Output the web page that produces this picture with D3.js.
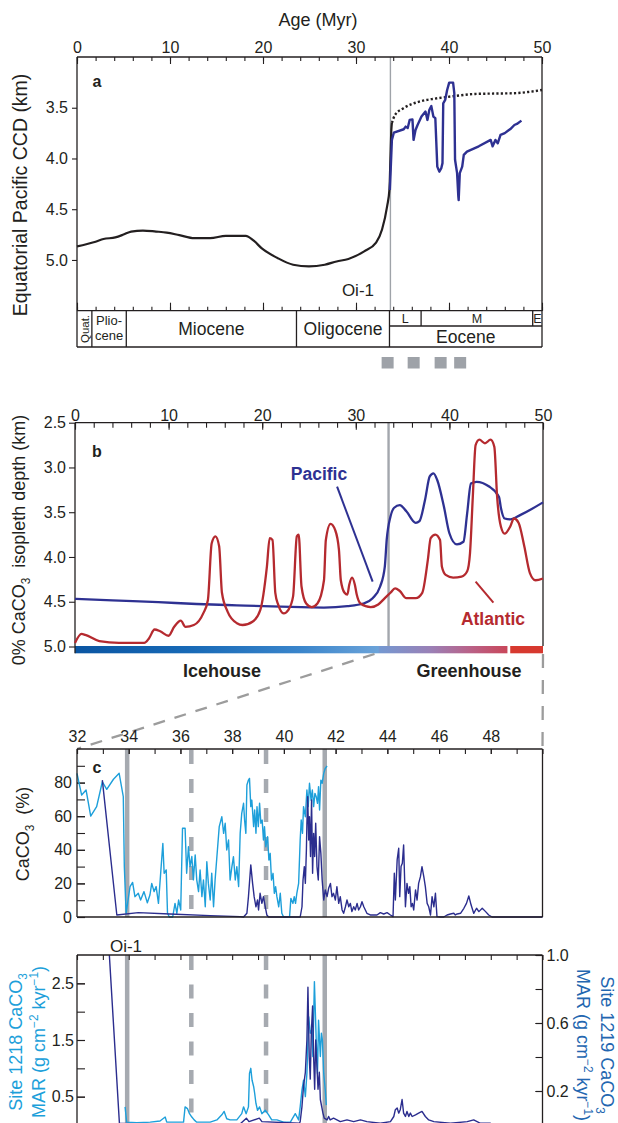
<!DOCTYPE html>
<html><head><meta charset="utf-8">
<script src="https://cdn.jsdelivr.net/npm/d3@7"></script>
<style>
body{margin:0;background:#fff}
svg{display:block}
text{font-family:"Liberation Sans",Arial,Helvetica,sans-serif}
</style>
</head><body>
<svg id="chart" width="618" height="1123"></svg>
<script>
// ---------------- DATA ----------------
// Panel a: Equatorial Pacific CCD (km) vs age (Myr)
const ccdSolid = [[0,4.867],[1,4.845],[2,4.82],[2.85,4.794],[4.12,4.778],[5,4.75],[5.82,4.72],[7.09,4.71],[8.5,4.72],[9.64,4.73],[11,4.755],[12.62,4.785],[14.32,4.785],[16.0,4.762],[18.14,4.762],[19,4.81],[19.84,4.883],[21.54,4.98],[23.24,5.047],[24.94,5.064],[26.64,5.047],[27.91,5.015],[29.18,4.99],[30.88,4.915],[32.16,4.83],[32.8,4.70],[33.35,4.47],[33.6,4.30],[33.7,4.0],[33.8,3.72],[33.86,3.65]];
const ccdDotted = [[33.86,3.65],[34.2,3.57],[35.1,3.505],[36.8,3.44],[38.5,3.41],[40.7,3.384],[42.8,3.364],[45,3.36],[47,3.357],[48.5,3.345],[50,3.325]];
const ccdEocene = [[33.64,4.31],[33.86,3.817],[34.07,3.745],[35.13,3.712],[35.34,3.686],[35.56,3.70],[35.77,3.62],[36.07,3.615],[36.19,3.817],[36.4,3.72],[36.62,3.67],[37.04,3.587],[37.47,3.538],[37.68,3.62],[37.89,3.52],[38.1,3.484],[38.32,3.587],[38.53,3.603],[38.74,4.08],[38.96,4.13],[39.17,4.096],[39.3,4.046],[39.38,3.456],[39.59,3.423],[39.8,3.325],[40.02,3.253],[40.44,3.253],[40.57,3.357],[40.65,4.013],[40.87,4.144],[41.0,4.37],[41.04,4.41],[41.16,4.144],[41.42,4.08],[41.59,3.965],[41.93,3.932],[43.2,3.88],[44.48,3.817],[44.69,3.88],[44.99,3.817],[45.24,3.85],[45.54,3.768],[46.0,3.75],[46.3,3.73],[46.6,3.71],[47.03,3.67],[47.3,3.66],[47.79,3.627]];
const epochBounds = [0,1.6,5.3,23.6,33.6,50];
const epochNames = ["Quat.","Plio-cene","Miocene","Oligocene","Eocene"];
const eoceneSubBounds = [33.6,37.0,49.0,50];
const eoceneSubNames = ["L","M","E"];
const oiLine = 33.7;
const squareAges = [33.4,36.2,39.1,41.2];
const ticksAge = [0,10,20,30,40,50];
const ticksCCD = [3.5,4.0,4.5,5.0];

// Panel b: 0% CaCO3 isopleth depth (km)
const pacific = [[0,4.467],[4,4.485],[8.9,4.505],[13,4.525],[17.3,4.54],[22,4.555],[26.6,4.565],[29.1,4.55],[30.8,4.52],[31.8,4.46],[32.6,4.33],[33.1,4.107],[33.3,3.81],[33.7,3.55],[34.1,3.45],[34.7,3.42],[35.4,3.49],[36.4,3.62],[36.8,3.6],[37.4,3.36],[37.9,3.10],[38.3,3.065],[38.7,3.14],[39.4,3.43],[40.0,3.735],[40.8,3.86],[41.5,3.83],[41.9,3.51],[42.3,3.18],[42.9,3.16],[44.2,3.21],[45.3,3.33],[45.5,3.45],[45.9,3.57],[46.5,3.58],[47.6,3.53],[50,3.39]];
const atlantic = [[0,4.96],[0.7,4.86],[1.1,4.87],[2.6,4.94],[4.7,4.96],[7.4,4.96],[7.9,4.91],[8.5,4.81],[9.1,4.83],[10.0,4.88],[10.6,4.78],[11.3,4.71],[11.8,4.78],[12.7,4.76],[13.7,4.63],[14.2,4.48],[14.6,3.85],[15.0,3.77],[15.4,3.88],[15.7,4.40],[16.3,4.61],[17.3,4.74],[17.9,4.76],[19.0,4.72],[19.8,4.59],[20.5,4.11],[20.8,3.79],[21.1,3.81],[21.4,4.40],[21.7,4.53],[22.3,4.63],[22.8,4.59],[23.3,4.44],[23.7,3.77],[23.9,3.75],[24.2,4.33],[24.7,4.52],[25.3,4.56],[25.9,4.52],[26.6,4.26],[26.8,3.81],[27.3,3.63],[27.8,3.70],[28.2,3.92],[28.4,4.26],[28.8,4.40],[29.1,4.42],[29.3,4.31],[29.6,4.23],[29.9,4.31],[30.1,4.42],[30.5,4.52],[31.6,4.56],[32.4,4.53],[33.1,4.46],[33.7,4.40],[34.2,4.35],[34.7,4.38],[35.4,4.46],[36.4,4.46],[37.1,4.40],[37.7,4.03],[38.0,3.79],[38.5,3.75],[39.0,3.81],[39.2,4.11],[39.6,4.20],[40.4,4.23],[41.3,4.22],[41.9,4.16],[42.2,3.96],[42.5,3.33],[42.8,2.75],[43.2,2.69],[43.8,2.73],[44.4,2.69],[44.8,2.77],[45.1,3.33],[45.5,3.66],[45.9,3.74],[46.5,3.66],[46.9,3.57],[47.4,3.62],[48.0,3.88],[48.6,4.18],[49.2,4.26],[50,4.24]];
const pacificPointer = [[28.0,3.214],[31.8,4.275]];
const atlanticPointer = [[42.8,4.275],[44.7,4.51]];
const bGrayLine = 33.5;
const ticksDepth = [2.5,3.0,3.5,4.0,4.5,5.0];
const climateStops = [[0,"#0a55a2"],[12,"#1769b6"],[24,"#3a85cb"],[32.4,"#6ba3d9"],[32.5,"#7498d1"],[38,"#9a80b6"],[42,"#b8638a"],[46.2,"#c9475a"]];
const climateGapEnd = 46.5;
const climateRed = "#d7392f";
const zoomRange = [32,50];

// Panel c: CaCO3 (%), Site 1218 (light) and Site 1219 (dark)
const pct1218 = [[32.0,85.5],[32.18,72.6],[32.35,75.6],[32.53,60.1],[32.76,65.7],[32.98,80.5],[33.15,76],[33.41,82],[33.63,85.5],[33.79,71.6],[33.83,29.9],[33.9,2.2],[34.05,18.1],[34.15,20.6],[34.24,12.1],[34.37,14.1],[34.46,10.1],[34.59,15.1],[34.72,8.5],[34.82,13.1],[34.89,20],[34.98,15.1],[35.06,18.1],[35.15,8.1],[35.24,27],[35.32,43.8],[35.37,26],[35.45,28],[35.5,2.2],[35.57,0],[35.7,0],[35.79,8.1],[35.86,2.2],[35.93,10.1],[36.01,4.2],[36.08,52.8],[36.18,52.8],[36.24,26],[36.31,41.8],[36.37,30],[36.44,36],[36.5,22.1],[36.57,37],[36.63,22.1],[36.7,15.1],[36.76,28],[36.83,12.1],[36.89,22.1],[36.96,6.1],[37.02,32.9],[37.08,20],[37.15,10.1],[37.21,26],[37.28,6.1],[37.34,22.1],[37.41,36],[37.5,53.8],[37.6,59.7],[37.67,49.8],[37.73,55.8],[37.79,39.9],[37.86,45.8],[37.92,22],[37.99,30],[38.05,35.9],[38.12,22],[38.18,30],[38.25,18.1],[38.31,49.8],[38.37,61.7],[38.44,67.7],[38.48,57.7],[38.53,49.8],[38.57,78.6],[38.63,81.5],[38.67,82.5],[38.72,65.7],[38.76,69.6],[38.83,53.8],[38.87,63.7],[38.92,49.8],[38.96,65.7],[39.01,53.8],[39.06,67.7],[39.11,55.8],[39.16,57.7],[39.21,45.8],[39.25,53.8],[39.3,41.8],[39.37,47.8],[39.42,33.9],[39.47,37.9],[39.52,22],[39.58,26],[39.63,14.1],[39.68,18.1],[39.73,12.1],[39.8,6.1],[39.86,14.1],[39.92,2.2],[39.99,0],[40.12,0],[40.22,0.2],[40.27,11.1],[40.35,8.1],[40.4,12.1],[40.45,8.1],[40.5,14.1],[40.57,20],[40.63,45.8],[40.67,57.7],[40.72,49.8],[40.76,65.7],[40.83,59.7],[40.89,75.6],[40.94,65.7],[40.99,79.6],[41.05,69.6],[41.1,75.6],[41.15,65.7],[41.2,73.6],[41.25,71.6],[41.3,67.7],[41.34,77.6],[41.38,63.7],[41.43,81.5],[41.48,79.6],[41.54,85.5],[41.6,88.5],[41.67,89.9]];
const pct1219 = [[32.98,81.5],[33.54,1.2],[34.37,2.6],[35.59,1.8],[37.15,0.8],[38.31,0.2],[38.44,0],[38.57,2.2],[38.63,12.1],[38.72,31],[38.79,20],[38.85,12.1],[38.92,6.1],[38.98,10.1],[39.02,4.2],[39.08,14.1],[39.15,8.1],[39.21,12.1],[39.28,6.1],[39.34,1.2],[39.41,0],[40.63,0],[40.7,6.1],[40.74,22],[40.79,30],[40.83,20],[40.87,39.9],[40.89,55.8],[40.92,71.6],[40.96,45.8],[40.99,59.7],[41.03,36],[41.07,69.6],[41.11,26],[41.15,49.8],[41.19,36],[41.23,55.8],[41.28,30],[41.33,22],[41.38,47.8],[41.43,37.9],[41.48,22],[41.54,10.1],[41.6,16.1],[41.67,12.1],[41.73,17.1],[41.8,20],[41.86,12.1],[41.92,14.1],[41.99,10.1],[42.05,18.1],[42.12,8.1],[42.18,12.1],[42.25,4.2],[42.31,2.2],[42.38,6.1],[42.44,10.1],[42.51,6.1],[42.57,8.1],[42.63,3.2],[42.7,6.1],[42.76,4.2],[42.83,8.1],[42.89,4.2],[42.96,6.1],[43.02,9.1],[43.09,6.1],[43.15,4.2],[43.21,2.2],[43.34,1.2],[43.6,1.2],[43.73,2.6],[43.86,1.8],[43.99,2.6],[44.12,1.2],[44.22,0.2],[44.27,26],[44.31,10.1],[44.38,34],[44.44,40.9],[44.48,12.1],[44.53,30],[44.58,32],[44.63,42.9],[44.7,6.1],[44.76,20],[44.82,14.1],[44.87,18.1],[44.92,6.1],[44.97,8.1],[45.02,4.2],[45.09,16.1],[45.15,10.1],[45.21,20],[45.28,24],[45.34,30],[45.41,24],[45.47,18.1],[45.54,8.1],[45.6,6.1],[45.67,1.2],[45.73,12.1],[45.8,6.1],[45.86,14.1],[45.92,0.2],[46.05,0],[46.18,0],[46.31,1.2],[46.44,1.8],[46.57,2.2],[46.63,1.2],[46.7,1.8],[46.83,2.2],[46.96,5.2],[47.06,8.1],[47.15,12.5],[47.24,7.1],[47.34,2.2],[47.45,5.2],[47.54,3.2],[47.67,5.2],[47.8,3.2],[47.92,1.2],[48.05,0],[50,0]];
const ticksAgeZoom = [32,34,36,38,40,42,44,46,48];
const ticksPct = [0,20,40,60,80];
const solidEvents = [33.94,41.58];
const dashedEvents = [36.42,39.31];

// Panel d: CaCO3 MAR (g cm-2 kyr-1); Site 1218 left axis, Site 1219 right axis
const mar1218 = [[33.86,0.32],[33.92,0.05],[34.31,0.04],[34.83,0.05],[35.21,0.07],[35.41,0.14],[35.47,0.05],[36.12,0.05],[36.18,0.32],[36.27,0.29],[36.35,0.2],[36.44,0.14],[36.53,0.09],[36.63,0.05],[37.15,0.05],[37.41,0.09],[37.6,0.18],[37.69,0.24],[37.79,0.11],[37.92,0.09],[38.18,0.09],[38.37,0.2],[38.44,0.32],[38.54,0.2],[38.63,0.32],[38.67,0.91],[38.72,1.0],[38.77,0.79],[38.83,0.68],[38.87,0.56],[38.92,0.38],[38.98,0.26],[39.06,0.32],[39.15,0.2],[39.28,0.26],[39.41,0.18],[39.53,0.09],[39.73,0.09],[39.99,0.05],[40.25,0.05],[40.44,0.2],[40.57,0.09],[40.63,0.32],[40.7,0.62],[40.76,0.79],[40.83,0.5],[40.89,0.91],[40.96,1.91],[41.02,1.62],[41.08,1.68],[41.12,1.21],[41.18,2.53],[41.21,2.09],[41.25,1.5],[41.3,0.91],[41.34,1.85],[41.41,1.21],[41.45,1.62],[41.49,1.5],[41.54,0.91],[41.6,0.62],[41.64,0.35]];
const mar1219 = [[32.98,1.69],[33.64,0.01],[34.5,0.005],[36,0.005],[38.3,0.005],[38.55,0.04],[38.65,0.02],[39.05,0.04],[39.15,0.02],[40.6,0.01],[40.63,0.02],[40.7,0.11],[40.76,0.23],[40.83,0.31],[40.89,0.5],[40.93,0.81],[40.98,0.40],[41.02,0.27],[41.06,0.54],[41.11,0.7],[41.15,0.40],[41.19,0.21],[41.23,0.5],[41.28,0.34],[41.32,0.21],[41.37,0.31],[41.41,0.15],[41.46,0.11],[41.51,0.07],[41.56,0.04],[41.67,0.03],[41.73,0.05],[41.79,0.03],[41.92,0.04],[42.05,0.03],[42.18,0.02],[42.44,0.03],[42.7,0.02],[42.96,0.03],[43.21,0.02],[43.73,0.01],[44.12,0.02],[44.25,0.05],[44.31,0.09],[44.38,0.1],[44.44,0.07],[44.5,0.09],[44.57,0.15],[44.63,0.07],[44.7,0.05],[44.76,0.08],[44.83,0.05],[44.89,0.07],[44.96,0.05],[45.09,0.06],[45.21,0.07],[45.34,0.08],[45.47,0.05],[45.6,0.03],[45.8,0.02],[46.44,0.01],[47.09,0.02],[47.34,0.03],[47.6,0.01],[48,0.01]];
const ticksMarLeft = [0.5,1.5,2.5];
const ticksMarRight = [0.2,0.6,1.0];

// ---------------- STYLE ----------------
const INK = "#231f20", FONT = '"Liberation Sans",Arial,Helvetica,sans-serif';
const C_BLUE = "#2e3192", C_RED = "#b52a2f", C_LIGHT = "#1d9fda", C_DARK = "#2b2d8e", C_GRAY = "#a6aab0";
const C_RIGHT_TITLE = "#2366b0";

const svg = d3.select("#chart");
const defs = svg.append("defs");

// ---------------- SCALES ----------------
const xA = d3.scaleLinear([0,50],[77,542]);
const yA = d3.scaleLinear([3.0,5.5],[57,310.7]);
const xB = d3.scaleLinear([0,50],[75,543]);
const yB = d3.scaleLinear([2.5,5.0],[422.7,646.5]);
const xC = d3.scaleLinear(zoomRange,[77,542.5]);
const yC = d3.scaleLinear([0,100],[917,749]);
const yDL = d3.scaleLinear([0,3],[1125,955]);
const yDR = d3.scaleLinear([0,1],[1125,955]);

function styleAxis(g, size){
  g.attr("font-family", FONT).attr("font-size", size||16).attr("color", INK);
  g.select(".domain").remove();
  g.selectAll(".tick line").attr("stroke-width",1.1);
  return g;
}
function seg(x1,y1,x2,y2,color,w,dash){
  const l = svg.append("line").attr("x1",x1).attr("y1",y1).attr("x2",x2).attr("y2",y2)
    .attr("stroke",color||INK).attr("stroke-width",w||1.3);
  if(dash) l.attr("stroke-dasharray",dash);
  return l;
}
function rich(g, parts, size){
  let cur = 0;
  parts.forEach(p => {
    const t = p[0], s = p[1];
    const target = s==="sub" ? size*0.28 : s==="sup" ? -size*0.4 : 0;
    const ts = g.append("tspan").text(t).attr("dy", target-cur);
    if(s) ts.attr("font-size", size*0.66);
    cur = target;
  });
}
function title(x,y,rot,parts,size,color,weight){
  const t = svg.append("text").attr("transform",`translate(${x},${y}) rotate(${rot})`)
    .attr("text-anchor","middle").attr("font-size",size).attr("fill",color||INK)
    .attr("font-weight",weight||"normal");
  rich(t, parts, size);
  return t;
}
function label(x,y,txt,size,opts){
  opts = opts||{};
  return svg.append("text").attr("x",x).attr("y",y).text(txt).attr("font-size",size)
    .attr("text-anchor",opts.anchor||"middle").attr("fill",opts.color||INK)
    .attr("font-weight",opts.weight||"normal");
}

// ================= PANEL a =================
title(318,26,0,[["Age (Myr)"]],18);
seg(xA(oiLine),yA(3.0),xA(oiLine),yA(5.5),"#9fa3a9",1.4);
styleAxis(svg.append("g").attr("transform",`translate(0,${yA(3.0)})`)
  .call(d3.axisTop(xA).tickValues(d3.range(0,51,2)).tickSizeInner(-4).tickSizeOuter(0).tickFormat("")));
styleAxis(svg.append("g").attr("transform",`translate(0,${yA(3.0)})`)
  .call(d3.axisTop(xA).tickValues(ticksAge).tickSizeInner(-7).tickSizeOuter(0).tickPadding(4).tickFormat(d3.format("d"))));
styleAxis(svg.append("g").attr("transform",`translate(0,${yA(5.5)})`)
  .call(d3.axisBottom(xA).tickValues(d3.range(0,51,2)).tickSizeInner(-4).tickSizeOuter(0).tickFormat("")));
styleAxis(svg.append("g").attr("transform",`translate(0,${yA(5.5)})`)
  .call(d3.axisBottom(xA).tickValues(ticksAge).tickSizeInner(-8).tickSizeOuter(0).tickFormat("")));
styleAxis(svg.append("g").attr("transform",`translate(${xA(0)},0)`)
  .call(d3.axisLeft(yA).tickValues(ticksCCD).tickSizeInner(5).tickSizeOuter(0).tickPadding(4).tickFormat(d3.format(".1f"))));
seg(xA(0),yA(3.0),xA(50),yA(3.0));
seg(xA(0),yA(3.0),xA(0),347);
seg(xA(50),yA(3.0),xA(50),347);
seg(xA(0),yA(5.5),xA(50),yA(5.5));
seg(xA(0),347,xA(50),347);
epochBounds.slice(1,-1).forEach(b=>seg(xA(b),yA(5.5),xA(b),347));
seg(xA(eoceneSubBounds[0]),326,xA(50),326);
eoceneSubBounds.slice(1,-1).forEach(b=>seg(xA(b),yA(5.5),xA(b),326));
const em = i => (xA(epochBounds[i])+xA(epochBounds[i+1]))/2;
svg.append("text").attr("transform",`translate(${em(0)+4.5},329) rotate(-90)`).attr("text-anchor","middle")
  .attr("font-size",11.5).attr("fill",INK).text(epochNames[0]);
label(em(1),325,epochNames[1].split("-")[0]+"-",13);
label(em(1),339.5,epochNames[1].split("-")[1],13);
label(em(2),335,epochNames[2],17.5);
label(em(3),335,epochNames[3],17.5);
label(em(4),343,epochNames[4],17.5);
eoceneSubNames.forEach((n,i)=>label((xA(eoceneSubBounds[i])+xA(eoceneSubBounds[i+1]))/2,323,n,12.5));
label(97,87,"a",16,{weight:"bold"});
label(374,296,"Oi-1",17,{anchor:"end"});
svg.append("path").datum(ccdSolid).attr("d",d3.line().x(d=>xA(d[0])).y(d=>yA(d[1])).curve(d3.curveMonotoneX)).attr("fill","none").attr("stroke",INK).attr("stroke-width",2.2);
svg.append("path").datum(ccdDotted).attr("d",d3.line().x(d=>xA(d[0])).y(d=>yA(d[1])).curve(d3.curveMonotoneX)).attr("fill","none").attr("stroke",INK).attr("stroke-width",2.4).attr("stroke-dasharray","2.2,2.2");
svg.append("path").datum(ccdEocene).attr("d",d3.line().x(d=>xA(d[0])).y(d=>yA(d[1]))).attr("fill","none").attr("stroke",C_BLUE).attr("stroke-width",2.4).attr("stroke-linejoin","round");
svg.selectAll(".sq").data(squareAges).join("rect").attr("x",d=>xA(d)-6).attr("y",357).attr("width",12).attr("height",11.5).attr("fill","#9ea2a8");
title(27,195,-90,[["Equatorial Pacific CCD (km)"]],19.5);

// ================= PANEL b =================
const grad = defs.append("linearGradient").attr("id","climate").attr("gradientUnits","userSpaceOnUse")
  .attr("x1",xB(0)).attr("x2",xB(climateStops[climateStops.length-1][0])).attr("y1",0).attr("y2",0);
const gEnd = climateStops[climateStops.length-1][0];
climateStops.forEach(s=>grad.append("stop").attr("offset",s[0]/gEnd).attr("stop-color",s[1]));
seg(xB(bGrayLine),yB(2.5),xB(bGrayLine),yB(5.0),"#a3a7ad",2.4);
svg.append("rect").attr("x",xB(0)).attr("y",646).attr("width",xB(gEnd)-xB(0)).attr("height",7.3).attr("fill","url(#climate)");
svg.append("rect").attr("x",xB(climateGapEnd)).attr("y",646).attr("width",xB(50)-xB(climateGapEnd)).attr("height",7.3).attr("fill",climateRed);
styleAxis(svg.append("g").attr("transform",`translate(0,${yB(2.5)})`)
  .call(d3.axisTop(xB).tickValues(d3.range(0,51,2)).tickSizeInner(-5).tickSizeOuter(0).tickFormat("")));
styleAxis(svg.append("g").attr("transform",`translate(0,${yB(2.5)})`)
  .call(d3.axisTop(xB).tickValues(ticksAge).tickSizeInner(-7).tickSizeOuter(0).tickPadding(2).tickFormat(d3.format("d"))));
styleAxis(svg.append("g").attr("transform",`translate(${xB(0)},0)`)
  .call(d3.axisLeft(yB).tickValues(ticksDepth).tickSizeInner(6).tickSizeOuter(0).tickPadding(3).tickFormat(d3.format(".1f"))));
seg(xB(0),yB(2.5),xB(50),yB(2.5));
seg(xB(0),yB(2.5),xB(0),653.3);
seg(xB(50),yB(2.5),xB(50),646);
const lineB = d3.line().x(d=>xB(d[0])).y(d=>yB(d[1])).curve(d3.curveMonotoneX);
svg.append("path").datum(pacific).attr("d",lineB).attr("fill","none").attr("stroke",C_BLUE).attr("stroke-width",2.3);
svg.append("path").datum(atlantic).attr("d",lineB).attr("fill","none").attr("stroke",C_RED).attr("stroke-width",2.3);
const lineBs = d3.line().x(d=>xB(d[0])).y(d=>yB(d[1]));
svg.append("path").datum(pacificPointer).attr("d",lineBs).attr("stroke",C_BLUE).attr("stroke-width",2);
svg.append("path").datum(atlanticPointer).attr("d",lineBs).attr("stroke",C_RED).attr("stroke-width",2);
label(319,480,"Pacific",17.5,{weight:"bold",color:C_BLUE});
label(493,625,"Atlantic",17.5,{weight:"bold",color:C_RED});
label(97,456.5,"b",16,{weight:"bold"});
label(222,677,"Icehouse",18,{weight:"bold"});
label(469,677,"Greenhouse",18,{weight:"bold"});
title(25,540,-90,[["0% CaCO"],["3","sub"],["\u00a0 isopleth depth (km)"]],18);

seg(xB(zoomRange[0]),654,xC(zoomRange[0]),749,"#9c9c9c",2.3,"12,10");
seg(xB(zoomRange[1]),654,xC(zoomRange[1]),749,"#9c9c9c",2.3,"14,12");

// ================= PANEL c =================
solidEvents.forEach(a=>seg(xC(a),yC(100),xC(a),yC(0),C_GRAY,4.5));
dashedEvents.forEach(a=>seg(xC(a),yC(100)+1,xC(a),yC(0),C_GRAY,4.5,"14,15"));
styleAxis(svg.append("g").attr("transform",`translate(0,${yC(100)})`)
  .call(d3.axisTop(xC).tickValues(d3.range(32,51,1)).tickSizeInner(-5).tickSizeOuter(0).tickFormat("")));
styleAxis(svg.append("g").attr("transform",`translate(0,${yC(100)})`)
  .call(d3.axisTop(xC).tickValues(ticksAgeZoom).tickSizeInner(-5).tickSizeOuter(0).tickPadding(7).tickFormat(d3.format("d"))));
styleAxis(svg.append("g").attr("transform",`translate(${xC(32)},0)`)
  .call(d3.axisLeft(yC).tickValues(d3.range(0,91,10)).tickSizeInner(-8).tickSizeOuter(0).tickFormat("")));
styleAxis(svg.append("g").attr("transform",`translate(${xC(32)},0)`)
  .call(d3.axisLeft(yC).tickValues(ticksPct).tickSizeInner(-8).tickSizeOuter(0).tickPadding(5).tickFormat(d3.format("d"))));
const lineC = d3.line().x(d=>xC(d[0])).y(d=>yC(d[1]));
svg.append("path").datum(pct1218).attr("d",lineC).attr("fill","none").attr("stroke",C_LIGHT).attr("stroke-width",1.4).attr("stroke-linejoin","round");
svg.append("path").datum(pct1219).attr("d",lineC).attr("fill","none").attr("stroke",C_DARK).attr("stroke-width",1.4).attr("stroke-linejoin","round");
seg(xC(32),yC(100),xC(50),yC(100));
seg(xC(32),yC(100),xC(32),yC(0));
seg(xC(50),yC(100),xC(50),yC(0));
seg(xC(32),yC(0),xC(50),yC(0));
label(97,773,"c",16,{weight:"bold"});
title(29,834,-90,[["CaCO"],["3","sub"],["\u00a0\u00a0(%)"]],18);

// ================= PANEL d =================
defs.append("clipPath").attr("id","clipD").append("rect")
  .attr("x",xC(32)).attr("y",yDL(3)).attr("width",xC(50)-xC(32)).attr("height",yDL(0)-yDL(3));
solidEvents.forEach(a=>seg(xC(a),yDL(3),xC(a),yDL(0),C_GRAY,4.5));
dashedEvents.forEach(a=>seg(xC(a),yDL(3)+1,xC(a),yDL(0),C_GRAY,4.5,"14,14.5"));
styleAxis(svg.append("g").attr("transform",`translate(0,${yDL(3)})`)
  .call(d3.axisTop(xC).tickValues(d3.range(32,51,1)).tickSizeInner(-5).tickSizeOuter(0).tickFormat("")));
styleAxis(svg.append("g").attr("transform",`translate(${xC(32)},0)`)
  .call(d3.axisLeft(yDL).tickValues(d3.range(0.5,3,0.5)).tickSizeInner(-8).tickSizeOuter(0).tickFormat("")));
styleAxis(svg.append("g").attr("transform",`translate(${xC(32)},0)`)
  .call(d3.axisLeft(yDL).tickValues(ticksMarLeft).tickSizeInner(-8).tickSizeOuter(0).tickPadding(3).tickFormat(d3.format(".1f"))));
styleAxis(svg.append("g").attr("transform",`translate(${xC(50)},0)`)
  .call(d3.axisRight(yDR).tickValues(d3.range(0.2,1.01,0.2)).tickSizeInner(-7).tickSizeOuter(0).tickFormat("")));
styleAxis(svg.append("g").attr("transform",`translate(${xC(50)},0)`)
  .call(d3.axisRight(yDR).tickValues(ticksMarRight).tickSizeInner(-7).tickSizeOuter(0).tickPadding(4).tickFormat(d3.format(".1f"))));
const gD = svg.append("g").attr("clip-path","url(#clipD)");
gD.append("path").datum(mar1218).attr("d",d3.line().x(d=>xC(d[0])).y(d=>yDL(d[1])))
  .attr("fill","none").attr("stroke",C_LIGHT).attr("stroke-width",1.4).attr("stroke-linejoin","round");
gD.append("path").datum(mar1219).attr("d",d3.line().x(d=>xC(d[0])).y(d=>yDR(d[1])))
  .attr("fill","none").attr("stroke",C_DARK).attr("stroke-width",1.4).attr("stroke-linejoin","round");
seg(xC(32),yDL(3),xC(50),yDL(3));
seg(xC(32),yDL(3),xC(32),yDL(0));
seg(xC(50),yDL(3),xC(50),yDL(0));
label(126,951.5,"Oi-1",17);
title(22,1042,-90,[["Site 1218 CaCO"],["3","sub"]],18,C_LIGHT);
title(45,1042,-90,[["MAR (g cm"],["\u22122","sup"],[" kyr"],["\u22121","sup"],[")"]],18,C_LIGHT);
title(601,1045,90,[["Site 1219 CaCO"],["3","sub"]],18,C_RIGHT_TITLE);
title(577,1045,90,[["MAR (g cm"],["\u22122","sup"],[" kyr"],["\u22121","sup"],[")"]],18,C_RIGHT_TITLE);
</script>
</body></html>
